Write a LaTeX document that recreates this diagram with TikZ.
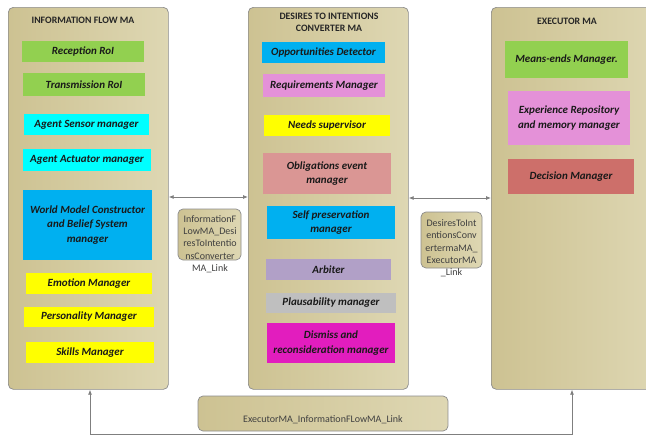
\documentclass[tikz,border=0pt]{standalone}
\usepackage{fontspec}
\setmainfont{Carlito}
\usetikzlibrary{arrows.meta}
\definecolor{tanA}{HTML}{CDC292}
\definecolor{tanB}{HTML}{DED7B3}
\definecolor{borderg}{HTML}{8C8C8C}
\definecolor{linkg}{HTML}{7F7F7F}
\definecolor{cgreen}{HTML}{92D050}
\definecolor{ccyan}{HTML}{00FFFF}
\definecolor{cblue}{HTML}{00B0F0}
\definecolor{cyellow}{HTML}{FFFF00}
\definecolor{cpink}{HTML}{E491D8}
\definecolor{crose}{HTML}{DA9694}
\definecolor{cpurple}{HTML}{B1A0C7}
\definecolor{cgray}{HTML}{BFBFBF}
\definecolor{cmagenta}{HTML}{E21DBE}
\definecolor{cred}{HTML}{CD6F6A}
\definecolor{textg}{HTML}{404040}
\begin{document}
\begin{tikzpicture}[x=1pt,y=-1pt,
  container/.style={draw=borderg, line width=0.7pt, rounded corners=5pt,
    left color=tanA, right color=tanB, anchor=north west, inner sep=0pt},
  linkbox/.style={draw=borderg, line width=0.7pt, rounded corners=5pt,
    left color=tanA, right color=tanB, inner sep=0pt},
  title/.style={font=\bfseries\fontsize{9.8}{12}\selectfont, text=black!85, align=center},
  inbox/.style={fill=#1, draw=none, inner sep=0.5pt, align=center,
    font=\bfseries\itshape\fontsize{11}{14.5}\selectfont, text=black!90},
  linktext/.style={font=\fontsize{10}{12.3}\selectfont, text=textg, align=center},
  conn/.style={draw=linkg, line width=0.8pt, {Latex[length=5pt,width=4pt]}-{Latex[length=5pt,width=4pt]}}
]
\clip (0,0) rectangle (646,439);
\fill[white] (0,0) rectangle (646,439);

% containers
\node[container, minimum width=160, minimum height=382] (left) at (8,7) {};
\node[container, minimum width=160, minimum height=382] (mid) at (248,7) {};
\node[container, minimum width=170, minimum height=382] (right) at (491,7) {};

% titles
\node[title] (tl) at (83,20) {INFORMATION FLOW MA};
\node[title] (tm) at (329,22) {DESIRES TO INTENTIONS\\CONVERTER MA};
\node[title] (tr) at (567,21) {EXECUTOR MA};

% left boxes
\node[inbox=cgreen, minimum width=122, minimum height=21] (rec) at (83,51.5) {Reception RoI};
\node[inbox=cgreen, minimum width=122, minimum height=23] (trans) at (84,84.5) {Transmission RoI};
\node[inbox=ccyan, minimum width=125, minimum height=21] (sens) at (86.5,124.5) {Agent Sensor manager};
\node[inbox=ccyan, minimum width=128, minimum height=22] (act) at (87,160) {Agent Actuator manager};
\node[inbox=cblue, minimum width=129, minimum height=70] (world) at (87.5,225) {World Model Constructor\\and Belief System\\manager};
\node[inbox=cyellow, minimum width=126, minimum height=21] (emo) at (89,283.5) {Emotion Manager};
\node[inbox=cyellow, minimum width=130, minimum height=20] (pers) at (89,317) {Personality Manager};
\node[inbox=cyellow, minimum width=128, minimum height=21] (skill) at (90,352.5) {Skills Manager};

% middle boxes
\node[inbox=cblue, minimum width=123, minimum height=21] (opp) at (323.5,52.5) {Opportunities Detector};
\node[inbox=cpink, minimum width=122, minimum height=23] (req) at (324,85.5) {Requirements Manager};
\node[inbox=cyellow, minimum width=126, minimum height=21] (needs) at (327,125.5) {Needs supervisor};
\node[inbox=crose, minimum width=128, minimum height=41] (obl) at (327,173.5) {Obligations event\\manager};
\node[inbox=cblue, minimum width=128, minimum height=33] (self) at (331,222.5) {Self preservation\\manager};
\node[inbox=cpurple, minimum width=125, minimum height=21] (arb) at (328.5,269.5) {Arbiter};
\node[inbox=cgray, minimum width=130, minimum height=20] (plaus) at (331,303) {Plausability manager};
\node[inbox=cmagenta, minimum width=128, minimum height=40] (dis) at (331,343) {Dismiss and\\reconsideration manager};

% right boxes
\node[inbox=cgreen, minimum width=123, minimum height=37] (means) at (566.5,59.5) {Means-ends Manager.};
\node[inbox=cpink, minimum width=122, minimum height=54] (exp) at (569,118) {Experience Repository\\and memory manager};
\node[inbox=cred, minimum width=126, minimum height=35] (dec) at (571,176.5) {Decision Manager};

% link boxes
\node[linkbox, minimum width=63, minimum height=51] (lk1) at (209.5,234.5) {};
\node[linktext] (lk1t) at (210,244) {InformationF\\LowMA\_Desi\\resToIntentio\\nsConverter\\MA\_Link};
\node[linkbox, minimum width=61, minimum height=56] (lk2) at (451.5,240) {};
\node[linktext] (lk2t) at (451.5,248.5) {DesiresToInt\\entionsConv\\ertermaMA\_\\ExecutorMA\\\_Link};
\node[linkbox, minimum width=250, minimum height=35] (lk3) at (323,413.5) {};
\node[linktext] (lk3t) at (323,419.5) {ExecutorMA\_InformationFLowMA\_Link};

% connectors
\draw[conn] (left.east |- {(0,197)}) -- (mid.west |- {(0,197)});
\draw[conn] (mid.east |- {(0,198)}) -- (right.west |- {(0,198)});
\draw[conn] (left.south -| {(90,0)}) -- ++(0,45) -| (right.south -| {(572,0)});
\end{tikzpicture}
\end{document}
